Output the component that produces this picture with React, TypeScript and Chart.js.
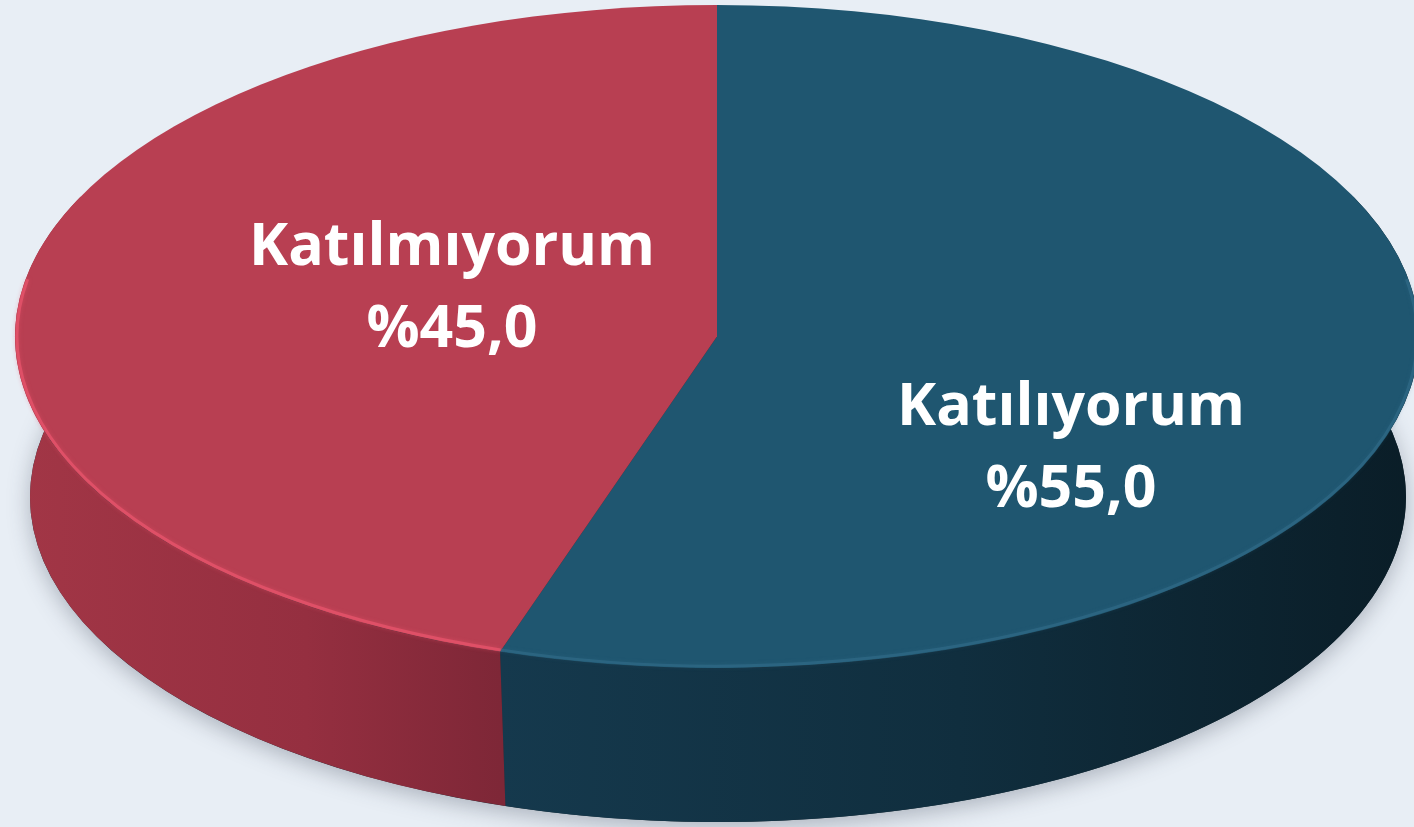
import React, { useEffect, useRef } from "react";
import { Chart, registerables } from "chart.js";

Chart.register(...registerables);

const categories = ["Katılıyorum", "Katılmıyorum"];
const values = [55.0, 45.0];
const valueLabels = ["%55,0", "%45,0"];
const topColors = ["#1f5670", "#b83f52"];

// geometry of the tilted disc (layout)
const CX = 717, CY = 336.5, RX = 702, RY = 331.5;
const CX2 = 718, CY2 = 497, RX2 = 688, RY2 = 325;
const LABEL_POS = [
  { x: 1071, y1: 425, y2: 507 },
  { x: 452, y1: 265, y2: 347 },
];

const pie3d = {
  id: "pie3d",
  beforeDatasetsDraw(chart: any) {
    const ctx = chart.ctx;
    const meta = chart.getDatasetMeta(0);
    const arcs = meta.data;
    if (!arcs.length) return;
    const R = arcs[0].outerRadius;
    // shadow
    ctx.save();
    ctx.beginPath();
    ctx.ellipse(CX2, CY2, RX2, RY2, 0, 0, Math.PI * 2);
    ctx.shadowColor = "rgba(60,70,85,0.35)";
    ctx.shadowBlur = 22;
    ctx.shadowOffsetY = 6;
    ctx.fillStyle = "#1a2a33";
    ctx.fill();
    ctx.restore();
    // sides
    const lo = (-25 * Math.PI) / 180, hi = (205 * Math.PI) / 180;
    arcs.forEach((arc: any, i: number) => {
      const a = Math.max(arc.startAngle, lo);
      const b = Math.min(arc.endAngle, hi);
      if (a >= b) return;
      const x0 = CX + RX * Math.min(Math.cos(a), Math.cos(b), a <= Math.PI && b >= Math.PI ? -1 : 1);
      const x1 = CX + RX * Math.max(Math.cos(a), Math.cos(b), a <= 0 && b >= 0 ? 1 : -1);
      const g = ctx.createLinearGradient(x0, 0, x1, 0);
      if (i === 0) {
        g.addColorStop(0, "#15394d");
        g.addColorStop(0.5, "#102e3e");
        g.addColorStop(1, "#0a1d27");
      } else {
        g.addColorStop(0, "#a23646");
        g.addColorStop(0.6, "#952f40");
        g.addColorStop(1, "#7e2737");
      }
      ctx.save();
      ctx.beginPath();
      ctx.ellipse(CX, CY, RX, RY, 0, a, b, false);
      ctx.ellipse(CX2, CY2, RX2, RY2, 0, b, a, true);
      ctx.closePath();
      ctx.fillStyle = g;
      ctx.fill();
      ctx.restore();
    });
    ctx.save();
    ctx.translate(CX, CY);
    ctx.scale(RX / R, RY / R);
    ctx.translate(-arcs[0].x, -arcs[0].y);
  },
  afterDatasetsDraw(chart: any) {
    const ctx = chart.ctx;
    const meta = chart.getDatasetMeta(0);
    const arcs = meta.data;
    if (!arcs.length) return;
    ctx.restore();
    // rim highlight
    const lo = (-10 * Math.PI) / 180, hi = (190 * Math.PI) / 180;
    arcs.forEach((arc: any, i: number) => {
      const a = Math.max(arc.startAngle, lo);
      const b = Math.min(arc.endAngle, hi);
      if (a >= b) return;
      ctx.save();
      ctx.beginPath();
      ctx.ellipse(CX, CY, RX - 2, RY - 2, 0, a, b, false);
      ctx.strokeStyle = i === 0 ? "rgba(60,120,150,0.4)" : "rgba(235,85,110,0.7)";
      ctx.lineWidth = 3;
      ctx.shadowColor = i === 0 ? "rgba(60,120,150,0.5)" : "rgba(235,85,110,0.6)";
      ctx.shadowBlur = 4;
      ctx.stroke();
      ctx.restore();
    });
    // labels
    ctx.save();
    ctx.fillStyle = "#ffffff";
    ctx.textAlign = "center";
    ctx.textBaseline = "alphabetic";
    ctx.font = "bold 59px 'Open Sans'";
    arcs.forEach((arc: any, i: number) => {
      const p = LABEL_POS[i];
      ctx.fillText(categories[i], p.x, p.y1);
      ctx.fillText(valueLabels[i], p.x, p.y2);
    });
    ctx.restore();
  },
};

export default function App() {
  const ref = useRef<HTMLCanvasElement | null>(null);
  useEffect(() => {
    if (!ref.current) return;
    const chart = new Chart(ref.current, {
      type: "pie",
      data: {
        labels: categories,
        datasets: [
          {
            data: values,
            backgroundColor: topColors,
            borderWidth: 0,
            clip: false as any,
          },
        ],
      },
      options: {
        animation: false,
        responsive: false,
        events: [],
        layout: { padding: 0 },
        plugins: { legend: { display: false }, tooltip: { enabled: false } },
      },
      plugins: [pie3d],
    });
    return () => chart.destroy();
  }, []);
  return (
    <div style={{ position: "fixed", left: 0, top: 0, width: 1414, height: 827, background: "#e8eef5", overflow: "hidden" }}>
      <canvas ref={ref} width={1414} height={827} style={{ display: "block" }} />
    </div>
  );
}
